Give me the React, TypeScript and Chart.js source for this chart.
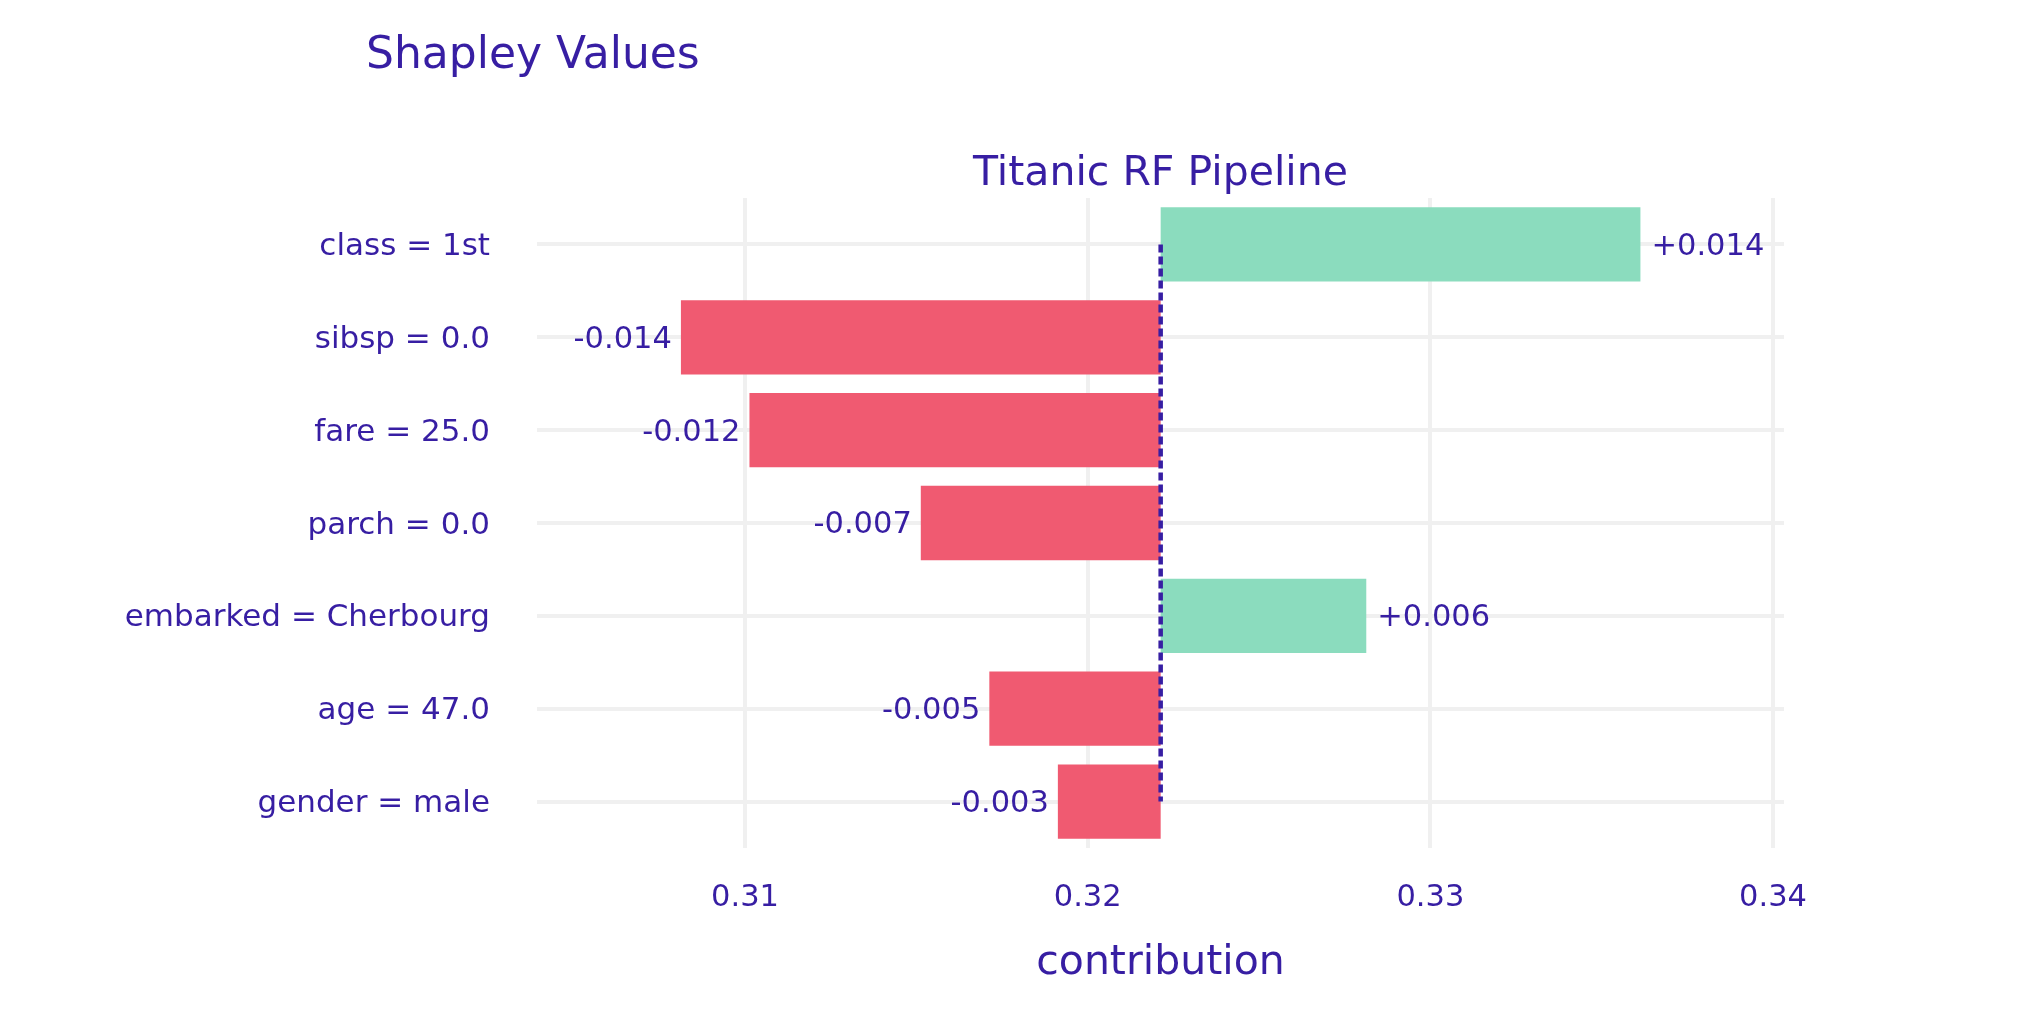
import React, { useEffect, useRef } from 'react';
import { Chart, registerables } from 'chart.js';

Chart.register(...registerables);

const categories = [
  'class = 1st',
  'sibsp = 0.0',
  'fare = 25.0',
  'parch = 0.0',
  'embarked = Cherbourg',
  'age = 47.0',
  'gender = male',
];
const contributions = [0.014, -0.014, -0.012, -0.007, 0.006, -0.005, -0.003];
const intercept = 0.32213;
const xTickValues = [0.31, 0.32, 0.33, 0.34];
const xTickLabels = ['0.31', '0.32', '0.33', '0.34'];
const xMin = 0.30393;
const xMax = 0.34032;
const barLabels = contributions.map((v) => (v > 0 ? '+' : '') + v.toFixed(3));

const mainTitle = 'Shapley Values';
const subTitle = 'Titanic RF Pipeline';
const xAxisTitle = 'contribution';

const TEXT = '#371ea3';
const GREEN = '#8bdcbe';
const RED = '#f05a71';
const GRID = '#f0f0f0';
const FONT = '"DejaVu Sans", Verdana, sans-serif';

const overlayPlugin = {
  id: 'overlayPlugin',
  afterDatasetsDraw(chart: any) {
    const { ctx, chartArea, scales } = chart;
    const meta = chart.getDatasetMeta(0);
    const x0 = scales.x.getPixelForValue(intercept);
    ctx.save();
    // bar value labels
    ctx.fillStyle = TEXT;
    ctx.font = `30.5px ${FONT}`;
    ctx.textBaseline = 'middle';
    meta.data.forEach((bar: any, i: number) => {
      const p = bar.getProps(['x', 'base', 'y'], true);
      const c = contributions[i];
      if (c > 0) {
        ctx.textAlign = 'left';
        ctx.fillText(barLabels[i], Math.max(p.x, p.base) + 11, p.y + 2.5);
      } else {
        ctx.textAlign = 'right';
        ctx.fillText(barLabels[i], Math.min(p.x, p.base) - 9, p.y + 2.5);
      }
    });
    // baseline dashed line
    const yTop = meta.data[0].y;
    const yBot = meta.data[meta.data.length - 1].y;
    ctx.strokeStyle = TEXT;
    ctx.lineWidth = 4.5;
    ctx.setLineDash([8, 4]);
    ctx.beginPath();
    ctx.moveTo(x0, yTop);
    ctx.lineTo(x0, yBot);
    ctx.stroke();
    ctx.setLineDash([]);
    // titles
    ctx.textBaseline = 'alphabetic';
    ctx.textAlign = 'left';
    ctx.font = `44px ${FONT}`;
    ctx.fillText(mainTitle, 366, 68);
    ctx.textAlign = 'center';
    ctx.font = `41px ${FONT}`;
    ctx.fillText(subTitle, (chartArea.left + chartArea.right) / 2, 185);
    ctx.restore();
  },
};

export default function App() {
  const canvasRef = useRef<HTMLCanvasElement | null>(null);

  useEffect(() => {
    if (!canvasRef.current) return;
    const chart = new Chart(canvasRef.current, {
      type: 'bar',
      data: {
        labels: categories,
        datasets: [
          {
            data: contributions.map((c) => [intercept, intercept + c]) as any,
            backgroundColor: contributions.map((c) => (c > 0 ? GREEN : RED)),
            borderWidth: 0,
            barPercentage: 0.8,
            categoryPercentage: 1.0,
          },
        ],
      },
      options: {
        indexAxis: 'y',
        animation: false,
        responsive: true,
        maintainAspectRatio: false,
        layout: { padding: { top: 198, right: 236, bottom: 0, left: 0 } },
        plugins: {
          legend: { display: false },
          tooltip: { enabled: false },
          title: { display: false },
        },
        scales: {
          x: {
            type: 'linear',
            min: xMin,
            max: xMax,
            afterBuildTicks: (scale: any) => {
              scale.ticks = xTickValues.map((v) => ({ value: v }));
            },
            afterFit: (scale: any) => {
              scale.height = 180;
            },
            ticks: {
              color: TEXT,
              font: { family: FONT, size: 30.5 },
              padding: 31.5,
              maxRotation: 0,
              autoSkip: false,
              callback: (_v: any, i: number) => xTickLabels[i],
            },
            grid: { color: GRID, lineWidth: 4, drawTicks: false },
            border: { display: false },
            title: {
              display: true,
              text: xAxisTitle,
              color: TEXT,
              font: { family: FONT, size: 41 },
              padding: { top: 0, bottom: 40.5 },
            },
          },
          y: {
            type: 'category',
            afterFit: (scale: any) => {
              scale.width = 537;
            },
            ticks: {
              color: TEXT,
              font: { family: FONT, size: 31 },
              padding: 47,
              labelOffset: 2.5,
              autoSkip: false,
            },
            grid: { color: GRID, lineWidth: 4, drawTicks: false, offset: false },
            border: { display: false },
          },
        },
      },
      plugins: [overlayPlugin],
    });
    return () => chart.destroy();
  }, []);

  return (
    <div style={{ position: 'fixed', left: 0, top: 0, width: '2020px', height: '1028px', background: '#fff' }}>
      <canvas ref={canvasRef} />
    </div>
  );
}
